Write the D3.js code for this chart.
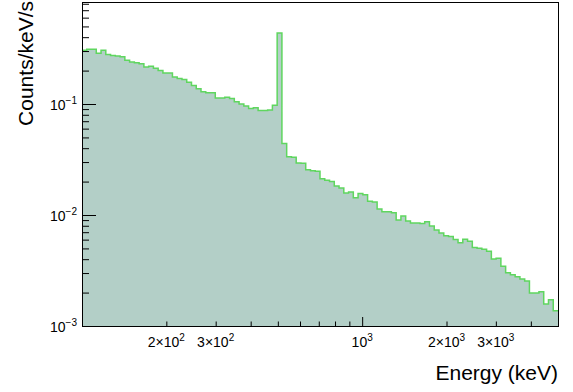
<!DOCTYPE html>
<html>
<head>
<meta charset="utf-8">
<script src="https://cdn.jsdelivr.net/npm/d3@7"></script>
<style>
  body { margin: 0; background: #fff; }
  text { font-family: "Liberation Sans", Arial, sans-serif; fill: #000; }
</style>
</head>
<body>
<div id="chart"></div>
<script>
// Histogram binning: 100 log-spaced bins between 100 keV and 5000 keV
const nBins = 100, eMin = 100, eMax = 5000;

// Counts/keV/s per bin
const rates = [
  0.305, 0.312, 0.312, 0.287, 0.305, 0.279, 0.273, 0.271, 0.267, 0.248,
  0.239, 0.235, 0.230, 0.215, 0.219, 0.210, 0.200, 0.190, 0.190, 0.175,
  0.170, 0.166, 0.157, 0.147, 0.137, 0.129, 0.126, 0.126, 0.113, 0.113,
  0.115, 0.112, 0.105, 0.100, 0.0961, 0.0913, 0.0926, 0.0876, 0.0876, 0.0883,
  0.0975, 0.437, 0.0440, 0.0335, 0.0331, 0.0294, 0.0292, 0.0256, 0.0250, 0.0248,
  0.0212, 0.0206, 0.0200, 0.0183, 0.0175, 0.0158, 0.0161, 0.0143, 0.0156, 0.0152,
  0.0133, 0.0131, 0.0113, 0.0107, 0.0107, 0.0105, 0.00903, 0.00982, 0.00885, 0.00849,
  0.00849, 0.00837, 0.00870, 0.00797, 0.00734, 0.00689, 0.00650, 0.00639, 0.00602, 0.00563,
  0.00605, 0.00580, 0.00510, 0.00502, 0.00492, 0.00471, 0.00402, 0.00408, 0.00345, 0.00302,
  0.00290, 0.00278, 0.00265, 0.00254, 0.00198, 0.00198, 0.00204, 0.00158, 0.00172, 0.00137
];

// Axis ticks and labels
const xMajor = [1000];
const xMinor = [200, 300, 400, 500, 600, 700, 800, 900, 2000, 3000, 4000];
const xLabels = [
  { v: 200, base: "2\u00d710", exp: "2" },
  { v: 300, base: "3\u00d710", exp: "2" },
  { v: 1000, base: "10", exp: "3" },
  { v: 2000, base: "2\u00d710", exp: "3" },
  { v: 3000, base: "3\u00d710", exp: "3" }
];
const yMajor = [1e-3, 1e-2, 1e-1];
const yExp = ["\u22123", "\u22122", "\u22121"];
const yMinor = [2e-3, 3e-3, 4e-3, 5e-3, 6e-3, 7e-3, 8e-3, 9e-3,
                2e-2, 3e-2, 4e-2, 5e-2, 6e-2, 7e-2, 8e-2, 9e-2,
                2e-1, 3e-1, 4e-1, 5e-1, 6e-1, 7e-1, 8e-1];

const W = 573, H = 392;
const margin = {top: 2, right: 15, bottom: 66, left: 82},
      width = W - margin.left - margin.right,
      height = H - margin.top - margin.bottom;

const svg = d3.select("#chart").append("svg")
    .attr("width", W).attr("height", H);

svg.append("rect").attr("width", W).attr("height", H).attr("fill", "#fff");

const g = svg.append("g")
    .attr("transform", `translate(${margin.left},${margin.top})`);

const x = d3.scaleLog().domain([eMin, eMax]).range([0, width]);
const y = d3.scaleLog().domain([1e-3, 0.83]).range([height, 0]);

// bin edges (log-spaced)
const lo = Math.log10(eMin), hi = Math.log10(eMax);
const edges = d3.range(nBins + 1).map(i => Math.pow(10, lo + (hi - lo) * i / nBins));

const steps = [];
rates.forEach((v, i) => {
    steps.push([edges[i], v]);
    steps.push([edges[i + 1], v]);
});

const area = d3.area()
    .x(d => x(d[0]))
    .y0(height)
    .y1(d => y(d[1]));

const line = d3.line()
    .x(d => x(d[0]))
    .y(d => y(d[1]));

g.append("path")
    .datum(steps)
    .attr("fill", "#b3cfc7")
    .attr("d", area);

g.append("path")
    .datum(steps)
    .attr("fill", "none")
    .attr("stroke", "#5fd65f")
    .attr("stroke-width", 1.5)
    .attr("d", line);

// frame
g.append("rect")
    .attr("x", 0.5).attr("y", 0.5)
    .attr("width", width).attr("height", height)
    .attr("fill", "none")
    .attr("stroke", "#000")
    .attr("stroke-width", 1);

// x axis ticks (inward)
const xAxisMajor = g.append("g")
    .attr("transform", `translate(0,${height})`)
    .call(d3.axisBottom(x).tickValues(xMajor).tickSize(-9).tickFormat(""));
const xAxisMinor = g.append("g")
    .attr("transform", `translate(0,${height})`)
    .call(d3.axisBottom(x).tickValues(xMinor).tickSize(-4.5).tickFormat(""));

// y axis ticks (inward)
const yAxisMajor = g.append("g")
    .call(d3.axisLeft(y).tickValues(yMajor).tickSize(-14).tickFormat(""));
const yAxisMinor = g.append("g")
    .call(d3.axisLeft(y).tickValues(yMinor).tickSize(-7).tickFormat(""));

[xAxisMajor, xAxisMinor, yAxisMajor, yAxisMinor].forEach(ax => {
    ax.select(".domain").attr("stroke", "#000");
    ax.selectAll(".tick line").attr("stroke", "#000");
});

// x tick labels
xLabels.forEach(d => {
    const t = g.append("text")
        .attr("x", x(d.v))
        .attr("y", height + 20.5)
        .attr("text-anchor", "middle")
        .style("font-size", "14px");
    t.append("tspan").text(d.base);
    t.append("tspan").attr("dy", -6).style("font-size", "10px").text(d.exp);
});

// y tick labels
yMajor.forEach((v, i) => {
    const t = g.append("text")
        .attr("x", -5)
        .attr("y", y(v) + 6)
        .attr("text-anchor", "end")
        .style("font-size", "14px");
    t.append("tspan").text("10");
    t.append("tspan").attr("dy", -6).style("font-size", "10px").text(yExp[i]);
});

// axis titles
svg.append("text")
    .attr("x", W - 15)
    .attr("y", 380)
    .attr("text-anchor", "end")
    .style("font-size", "21px")
    .text("Energy (keV)");

svg.append("text")
    .attr("transform", "translate(33,1) rotate(-90)")
    .attr("text-anchor", "end")
    .style("font-size", "21px")
    .text("Counts/keV/s");
</script>
</body>
</html>
